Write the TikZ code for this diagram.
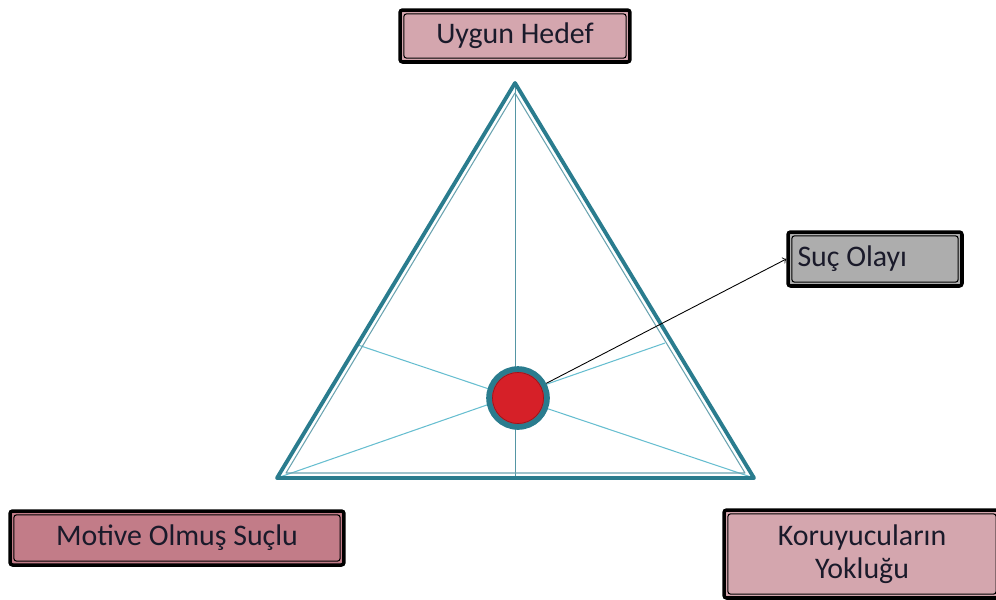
\documentclass[tikz,border=0pt]{standalone}
\usepackage{fontspec}
\setmainfont{Carlito}
\usetikzlibrary{shapes.geometric,arrows}
\definecolor{pembe}{HTML}{D4A6AE}
\definecolor{koyupembe}{HTML}{C27C88}
\definecolor{gri}{HTML}{ADADAD}
\definecolor{petrol}{HTML}{2A7C8E}
\definecolor{acikmavi}{HTML}{67BED0}
\definecolor{kirmizi}{HTML}{D62028}
\definecolor{yazi}{HTML}{1A1A2A}
\tikzstyle{kutu} = [rectangle, rounded corners=1.5pt, draw=black, line width=2pt,
text=yazi, font=\fontsize{17}{19}\selectfont, align=center, inner sep=2pt,
path picture={\draw[black,line width=0.6pt] ([shift={(2.2pt,2.2pt)}]path picture bounding box.south west) rectangle ([shift={(-2.2pt,-2.2pt)}]path picture bounding box.north east);}]
\tikzstyle{ince} = [acikmavi, line width=0.6pt]
\tikzstyle{arrow} = [black, line width=0.5pt,->,>=to]

\begin{document}
\begin{tikzpicture}[x=0.02cm,y=-0.02cm]
\useasboundingbox (0,0) rectangle (996,599);
\begin{scope}
\clip (0,0) rectangle (996,599);
% ucgen
\coordinate (A) at (515,83);
\coordinate (B) at (277,478);
\coordinate (C) at (754,478);
\draw [ince] (B) -- (665,343);
\draw [ince] (C) -- (358,345);
\draw [petrol!80, line width=0.5pt] (A) -- (515,478);
\draw [petrol, line width=2.2pt, line join=round] (A) -- (B) -- (C) -- cycle;
\draw [petrol!70, line width=0.6pt, line join=round] (515,93) -- (286,473) -- (745,473) -- cycle;

\node (olay)[circle, minimum size=1.16cm, fill=kirmizi, draw=petrol, line width=3.2pt,
path picture={\draw[kirmizi!70!black, line width=0.4pt] (path picture bounding box.center) circle (0.51cm);}] at (518,398) {};

\node (hedef)[kutu, fill=pembe, minimum width=4.6cm, minimum height=1.04cm] at (515,36) {Uygun Hedef};
\node (suc)[kutu, fill=gri, minimum width=3.48cm, minimum height=1.08cm] at (875,259) {\makebox[3.1cm][l]{Suç Olayı}};
\node (sucl)[kutu, fill=koyupembe, minimum width=6.68cm, minimum height=1.08cm] at (177,538) {Motive Olmuş Suçlu};
\node (koruma)[kutu, fill=pembe, minimum width=5.52cm, minimum height=1.76cm] at (862,554) {Koruyucuların\\Yokluğu};

\draw [arrow](olay) -- (suc.west);
\end{scope}
\end{tikzpicture}
\end{document}
